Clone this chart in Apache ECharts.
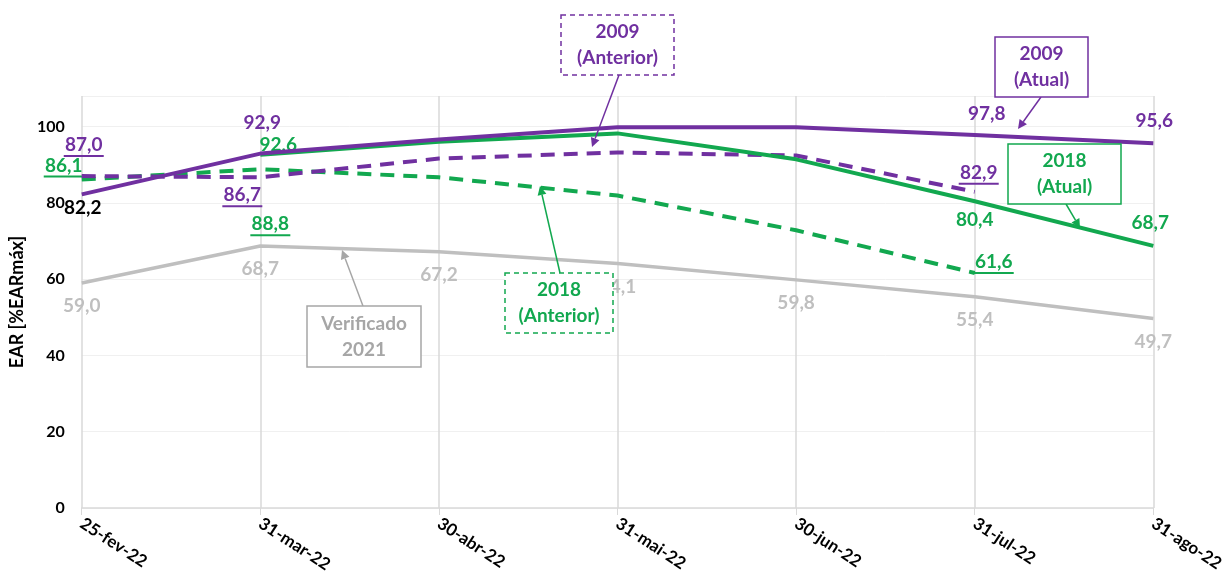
<!DOCTYPE html>
<html>
<head>
<meta charset="utf-8">
<script src="https://cdn.jsdelivr.net/npm/echarts@6/dist/echarts.min.js"></script>
<style>
html,body{margin:0;padding:0;background:#fff;}
#chart{width:1227px;height:577px;}
</style>
</head>
<body>
<div id="chart"></div>
<script>
// ---- data ----
const categories = ['25-fev-22','31-mar-22','30-abr-22','31-mai-22','30-jun-22','31-jul-22','31-ago-22'];
const atual2009 = [82.2, 92.9, 96.6, 99.8, 99.8, 97.8, 95.6];
const atual2018 = [null, 92.6, 96.0, 98.2, 91.4, 80.4, 68.7];
const anterior2009 = [87.0, 86.7, 91.6, 93.2, 92.4, 82.9, null];
const anterior2018 = [86.1, 88.8, 86.7, 81.9, 72.8, 61.6, null];
const verificado2021 = [59.0, 68.7, 67.2, 64.1, 59.8, 55.4, 49.7];
const yTickLabels = ['0','20','40','60','80','100'];

// ---- styles ----
const PURPLE = '#7030a0', GREEN = '#12a84f', GRAY = '#bfbfbf';
const FONT = 'Lato';
const LBL = 19;

// label layout: index -> [dx, dy, color?]
const labelLayout = {
  atual2009: {0:[1,13,'#000'], 1:[2,-31], 5:[12,-21], 6:[1,-22]},
  atual2018: {1:[18,-10], 5:[0,19], 6:[-3,-23]},
  anterior2009: {0:[2,-30], 1:[-18,19], 5:[4,-18]},
  anterior2018: {0:[-18,-13], 1:[10,56], 5:[19,-10]},
  verificado2021: {0:[0,23],1:[0,23],2:[0,23],3:[0,23],4:[0,23],5:[0,23],6:[0,23]}
};

function fmt(v){ return v.toFixed(1).replace('.', ','); }

function buildData(values, layout, color, underline){
  return values.map((v, i) => {
    if (v == null) return null;
    const l = layout[i];
    if (!l) return { value: v, label: { show: false } };
    const c = l[2] || color;
    return {
      value: v,
      label: {
        show: true,
        position: 'inside',
        offset: [l[0], l[1]],
        formatter: underline ? ('{t|' + fmt(v) + '}\n{u| }') : fmt(v),
        color: c,
        fontFamily: FONT, fontWeight: 'bold', fontSize: LBL,
        rich: underline ? {
          t: { color: c, fontFamily: FONT, fontWeight: 'bold', fontSize: LBL, lineHeight: 20, align: 'center' },
          u: { width: 40, height: 2, lineHeight: 2, backgroundColor: c, fontSize: 1, align: 'center' }
        } : undefined
      }
    };
  });
}

function lineSeries(name, values, layout, color, dashed, underline, width, z){
  return {
    name, type: 'line', z,
    data: buildData(values, layout, color, underline),
    symbol: 'circle', symbolSize: 0.1, showSymbol: true,
    itemStyle: { color },
    lineStyle: { color, width, type: dashed ? [14, 9] : 'solid', cap: 'butt' },
    connectNulls: false,
    animation: false
  };
}

function arrow(x1,y1,x2,y2,color){
  const ang = Math.atan2(y2-y1, x2-x1), L = 9, W = 4.5;
  const bx = x2 - L*Math.cos(ang), by = y2 - L*Math.sin(ang);
  const px = -Math.sin(ang)*W, py = Math.cos(ang)*W;
  return [
    { type:'line', shape:{x1,y1,x2:bx,y2:by}, style:{stroke:color, lineWidth:1.5}, z:100 },
    { type:'polygon', shape:{points:[[x2,y2],[bx+px,by+py],[bx-px,by-py]]}, style:{fill:color}, z:100 }
  ];
}
function box(x1,y1,x2,y2,color,dashed,lines,txtColor){
  return [
    { type:'rect', shape:{x:x1,y:y1,width:x2-x1,height:y2-y1},
      style:{fill:'#fff', stroke:color, lineWidth:1.5, lineDash: dashed ? [5,4] : null}, z:101 },
    { type:'text', x:(x1+x2)/2, y:(y1+y2)/2, z:102,
      style:{ text: lines.join('\n'), fill: txtColor || color, font: 'bold 19px ' + FONT,
        textAlign:'center', textVerticalAlign:'middle', lineHeight: 26 } }
  ];
}

const graphics = [].concat(
  box(561,15,674,75,PURPLE,true,['2009','(Anterior)']),
  arrow(619,75,592,147,PURPLE),
  box(995,37,1088,97,PURPLE,false,['2009','(Atual)']),
  arrow(1041,97,1018,129,PURPLE),
  box(1008,144,1121,204,GREEN,false,['2018','(Atual)']),
  arrow(1066,204,1080,228,GREEN),
  box(505,273,613,333,GREEN,true,['2018','(Anterior)']),
  arrow(560,273,540,186,GREEN),
  box(307,306,421,367,'#a6a6a6',false,['Verificado','2021'],'#a6a6a6'),
  arrow(363,306,342,250,'#a6a6a6')
);

const chart = echarts.init(document.getElementById('chart'), null, {renderer:'canvas'});
chart.setOption({
  animation: false,
  backgroundColor: '#fff',
  grid: { left: 80, right: 72, top: 96, bottom: 69, containLabel: false },
  xAxis: {
    type: 'category', data: categories, boundaryGap: false,
    axisLine: { show: true, lineStyle: { color: '#d9d9d9', width: 1.5 } },
    axisTick: { show: true, length: 7, lineStyle: { color: '#d9d9d9' } },
    splitLine: { show: true, lineStyle: { color: '#d9d9d9', width: 1.5 } },
    axisLabel: { rotate: -33, margin: 14, color: '#000', fontFamily: FONT, fontWeight: 'bold', fontSize: 17, interval: 0 }
  },
  yAxis: {
    type: 'value', min: 0, max: 108, interval: 20,
    name: 'EAR [%EARmáx]', nameLocation: 'middle', nameGap: 54, nameRotate: 90,
    nameTextStyle: { color: '#000', fontFamily: FONT, fontWeight: 'bold', fontSize: 18 },
    axisLine: { show: false }, axisTick: { show: false },
    splitLine: { show: true, lineStyle: { color: '#f0f0f0', width: 1 } },
    axisLabel: { showMaxLabel: false, margin: 17, color: '#000', fontFamily: FONT, fontWeight: 'bold', fontSize: 16,
      formatter: v => yTickLabels.indexOf(String(v)) >= 0 ? String(v) : '' }
  },
  series: [
    lineSeries('Verificado 2021', verificado2021, labelLayout.verificado2021, GRAY, false, false, 3.5, 1),
    lineSeries('2018 (Anterior)', anterior2018, labelLayout.anterior2018, GREEN, true, true, 4, 2),
    lineSeries('2009 (Anterior)', anterior2009, labelLayout.anterior2009, PURPLE, true, true, 4, 3),
    lineSeries('2018 (Atual)', atual2018, labelLayout.atual2018, GREEN, false, false, 4, 4),
    lineSeries('2009 (Atual)', atual2009, labelLayout.atual2009, PURPLE, false, false, 4, 5)
  ],
  graphic: graphics
});
</script>
</body>
</html>
